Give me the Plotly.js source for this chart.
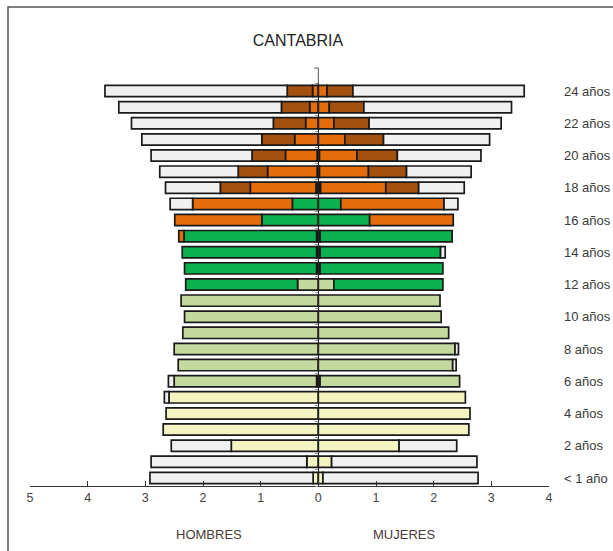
<!DOCTYPE html>
<html>
<head>
<meta charset="utf-8">
<script src="https://cdn.plot.ly/plotly-3.0.1.min.js"></script>
<style>html,body{margin:0;padding:0;background:#fff;}#chart{width:613px;height:551px;}</style>
</head>
<body>
<div id="chart"></div>
<script>
// Ages 0..24 (index = age)
const ages = Array.from({length: 25}, (_, i) => i);
const ageTickVals = [0, 2, 4, 6, 8, 10, 12, 14, 16, 18, 20, 22, 24];
const ageTickText = ['< 1 año', '2 años', '4 años', '6 años', '8 años', '10 años', '12 años',
                     '14 años', '16 años', '18 años', '20 años', '22 años', '24 años'];
const xTickVals = [-5, -4, -3, -2, -1, 0, 1, 2, 3, 4];
const xTickText = ['5', '4', '3', '2', '1', '0', '1', '2', '3', '4'];

// HOMBRES (values per age, percent)
//                 0     1     2     3     4     5     6     7     8     9    10    11    12    13    14    15    16    17    18    19    20    21    22    23    24
const hNegro    = [0,    0,    0,    0,    0,    0,    0.03, 0,    0,    0,    0,    0,    0,    0.03, 0.03, 0.03, 0,    0,    0.04, 0.02, 0.02, 0,    0,    0,    0];
const hInfantil = [0.09, 0.20, 1.51, 2.69, 2.64, 2.59, 0,    0,    0,    0,    0,    0,    0,    0,    0,    0,    0,    0,    0,    0,    0,    0,    0,    0,    0];
const hPrimaria = [0,    0,    0,    0,    0,    0,    2.47, 2.43, 2.50, 2.35, 2.32, 2.38, 0.36, 0,    0,    0,    0,    0,    0,    0,    0,    0,    0,    0,    0];
const hESO      = [0,    0,    0,    0,    0,    0,    0,    0,    0,    0,    0,    0,    1.94, 2.29, 2.33, 2.30, 0.98, 0.45, 0,    0,    0,    0,    0,    0,    0];
const hSecund   = [0,    0,    0,    0,    0,    0,    0,    0,    0,    0,    0,    0,    0,    0,    0,    0.09, 1.51, 1.73, 1.14, 0.86, 0.55, 0.41, 0.22, 0.15, 0.10];
const hSuperior = [0,    0,    0,    0,    0,    0,    0,    0,    0,    0,    0,    0,    0,    0,    0,    0,    0,    0,    0.52, 0.51, 0.58, 0.57, 0.56, 0.49, 0.44];
const hNoEsc    = [2.83, 2.70, 1.04, 0,    0,    0.08, 0.10, 0,    0,    0,    0,    0,    0,    0,    0,    0,    0,    0.39, 0.95, 1.36, 1.75, 2.08, 2.46, 2.82, 3.16];

// MUJERES
const mNegro    = [0,    0,    0,    0,    0,    0,    0.03, 0,    0,    0,    0,    0,    0,    0.03, 0.03, 0.03, 0,    0,    0.04, 0.02, 0.02, 0,    0,    0,    0];
const mInfantil = [0.08, 0.23, 1.40, 2.61, 2.63, 2.55, 0,    0,    0,    0,    0,    0,    0,    0,    0,    0,    0,    0,    0,    0,    0,    0,    0,    0,    0];
const mPrimaria = [0,    0,    0,    0,    0,    0,    2.42, 2.33, 2.37, 2.26, 2.13, 2.11, 0.27, 0,    0,    0,    0,    0,    0,    0,    0,    0,    0,    0,    0];
const mESO      = [0,    0,    0,    0,    0,    0,    0,    0,    0,    0,    0,    0,    1.89, 2.13, 2.09, 2.29, 0.89, 0.39, 0,    0,    0,    0,    0,    0,    0];
const mSecund   = [0,    0,    0,    0,    0,    0,    0,    0,    0,    0,    0,    0,    0,    0,    0,    0,    1.45, 1.79, 1.13, 0.85, 0.65, 0.46, 0.27, 0.19, 0.15];
const mSuperior = [0,    0,    0,    0,    0,    0,    0,    0,    0,    0,    0,    0,    0,    0,    0,    0,    0,    0,    0.57, 0.66, 0.70, 0.67, 0.61, 0.60, 0.45];
const mNoEsc    = [2.69, 2.52, 1.00, 0,    0,    0,    0,    0.06, 0.06, 0,    0,    0,    0,    0,    0.08, 0,    0,    0.24, 0.79, 1.12, 1.45, 1.84, 2.29, 2.56, 2.97];

const series = [
  {name: 'Otros',          h: hNegro,    m: mNegro,    color: '#111111'},
  {name: 'Infantil',       h: hInfantil, m: mInfantil, color: '#f4f4c2'},
  {name: 'Primaria',       h: hPrimaria, m: mPrimaria, color: '#c4d99e'},
  {name: 'ESO',            h: hESO,      m: mESO,      color: '#0cb14f'},
  {name: 'Secundaria II',  h: hSecund,   m: mSecund,   color: '#e46c0a'},
  {name: 'Superior',       h: hSuperior, m: mSuperior, color: '#a4500e'},
  {name: 'No escolarizado',h: hNoEsc,    m: mNoEsc,    color: '#f0f0f0'}
];

const traces = [];
series.forEach(s => {
  traces.push({
    type: 'bar', orientation: 'h', y: ages,
    x: s.h.map(v => v ? -v : null),
    marker: {color: s.color, line: {color: '#1a1a1a', width: 1.7}},
    name: s.name, showlegend: false, hoverinfo: 'skip'
  });
  traces.push({
    type: 'bar', orientation: 'h', y: ages,
    x: s.m.map(v => v ? v : null),
    marker: {color: s.color, line: {color: '#1a1a1a', width: 1.7}},
    name: s.name, showlegend: false, hoverinfo: 'skip'
  });
});

const halfTicks = Array.from({length: 26}, (_, i) => i - 0.5);
const zeroPos = 5 / 9;

const layout = {
  width: 613, height: 551, autosize: false,
  paper_bgcolor: '#ffffff', plot_bgcolor: '#ffffff',
  margin: {l: 30, r: 64, t: 83, b: 65},
  barmode: 'relative', bargap: 0.3,
  font: {family: 'Liberation Sans, Arial, sans-serif', color: '#333333', size: 12},
  title: {text: 'CANTABRIA', font: {size: 16, color: '#222222'},
          x: 298 / 613, xref: 'container', xanchor: 'center',
          y: 1 - 40 / 551, yref: 'container', yanchor: 'middle'},
  xaxis: {range: [-5, 4], tickvals: xTickVals, ticktext: xTickText,
          showline: true, linecolor: '#333333', linewidth: 1.2,
          ticks: 'inside', ticklen: 5, tickcolor: '#333333',
          showgrid: false, zeroline: false, fixedrange: true,
          tickfont: {size: 12.5, color: '#444444'}},
  yaxis: {range: [-0.5, 24.5], anchor: 'free', position: zeroPos,
          showline: true, linecolor: '#222222', linewidth: 1,
          ticks: 'outside', ticklen: 3, tickcolor: '#9a9a9a', tickvals: halfTicks,
          showticklabels: false, showgrid: false, zeroline: false, fixedrange: true},
  yaxis2: {range: [-0.5, 24.5], overlaying: 'y', side: 'right', anchor: 'x',
           tickvals: ageTickVals, ticktext: ageTickText, ticks: '',
           showline: false, showgrid: false, zeroline: false, fixedrange: true,
           ticklabelstandoff: 14, tickfont: {size: 13, color: '#3a3a3a'}},
  annotations: [
    {text: 'HOMBRES', xref: 'paper', yref: 'paper', x: (209 - 30) / 519, y: (486 - 534) / 403,
     showarrow: false, xanchor: 'center', yanchor: 'middle', font: {size: 13, color: '#4a3a3a'}},
    {text: 'MUJERES', xref: 'paper', yref: 'paper', x: (404 - 30) / 519, y: (486 - 534) / 403,
     showarrow: false, xanchor: 'center', yanchor: 'middle', font: {size: 13, color: '#4a3a3a'}}
  ],
  shapes: [
    {type: 'rect', xref: 'paper', yref: 'paper',
     x0: (8 - 30) / 519, x1: (640 - 30) / 519, y0: (486 - 580) / 403, y1: (486 - 7) / 403,
     line: {color: '#555555', width: 1.5}, fillcolor: 'rgba(0,0,0,0)'},
    {type: 'line', xref: 'paper', yref: 'paper', x0: zeroPos, x1: zeroPos,
     y0: 1, y1: (486 - 68) / 403, line: {color: '#555555', width: 1}},
    {type: 'line', xref: 'paper', yref: 'paper', x0: zeroPos - 4 / 519, x1: zeroPos,
     y0: (486 - 68) / 403, y1: (486 - 68) / 403, line: {color: '#555555', width: 1}}
  ]
};

// invisible trace to bind yaxis2
traces.push({type: 'scatter', x: [0], y: [0], yaxis: 'y2', mode: 'markers',
             marker: {opacity: 0}, showlegend: false, hoverinfo: 'skip'});

Plotly.newPlot('chart', traces, layout, {displayModeBar: false, staticPlot: true});
</script>
</body>
</html>
